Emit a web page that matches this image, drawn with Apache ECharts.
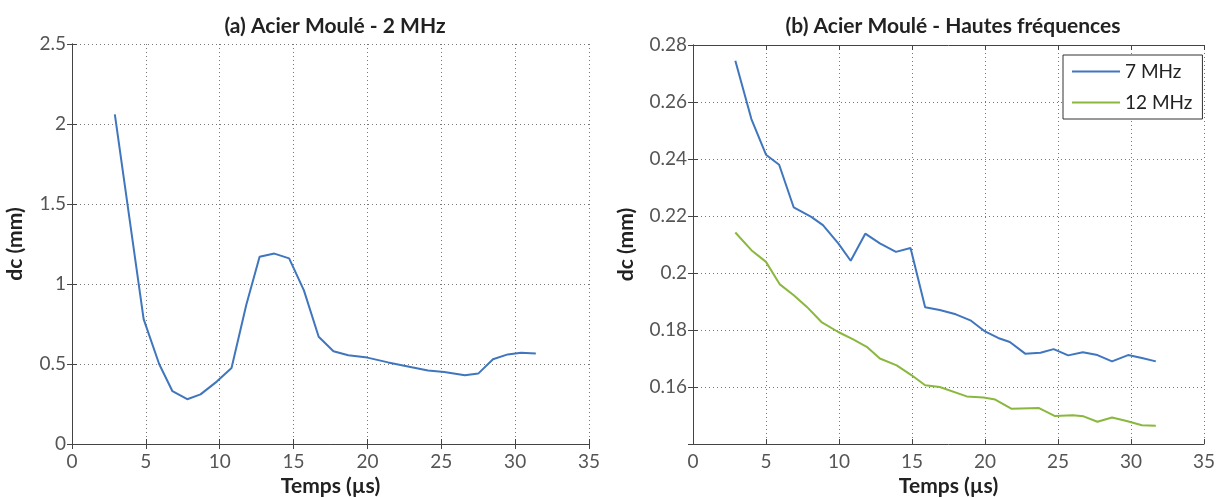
<!DOCTYPE html>
<html>
<head>
<meta charset="utf-8">
<script src="https://cdn.jsdelivr.net/npm/echarts@6/dist/echarts.min.js"></script>
<style>
html,body{margin:0;padding:0;background:#fff;}
#chart{width:1220px;height:497px;}
</style>
</head>
<body>
<div id="chart"></div>
<script>
// Panel (a): 2 MHz
const timeA = [2.9, 4.85, 5.9, 6.8, 7.8, 8.7, 9.8, 10.8, 11.8, 12.7, 13.7, 14.7, 15.7, 16.7, 17.7, 18.7, 20.0, 21.4, 23.0, 24.1, 25.2, 26.6, 27.5, 28.5, 29.5, 30.4, 31.4];
const dc2MHz = [2.06, 0.78, 0.5, 0.33, 0.28, 0.31, 0.39, 0.475, 0.87, 1.17, 1.19, 1.16, 0.96, 0.67, 0.58, 0.555, 0.54, 0.51, 0.48, 0.46, 0.45, 0.43, 0.44, 0.53, 0.56, 0.57, 0.565];

// Panel (b): 7 MHz
const time7 = [2.9, 4.0, 5.0, 5.9, 6.9, 8.1, 8.9, 9.95, 10.8, 11.8, 12.8, 13.9, 14.9, 15.9, 16.9, 18.0, 19.0, 20.0, 20.9, 21.7, 22.75, 23.8, 24.7, 25.7, 26.7, 27.7, 28.7, 29.8, 30.75, 31.7];
const dc7MHz = [0.2745, 0.254, 0.2415, 0.238, 0.223, 0.2197, 0.2168, 0.2104, 0.2043, 0.2138, 0.2104, 0.2074, 0.2088, 0.188, 0.187, 0.1855, 0.1834, 0.1795, 0.1772, 0.1758, 0.1717, 0.172, 0.1733, 0.1711, 0.1722, 0.1712, 0.169, 0.1712, 0.1702, 0.169];

// Panel (b): 12 MHz
const time12 = [2.9, 4.0, 5.0, 5.95, 6.9, 7.8, 8.8, 9.95, 10.97, 11.9, 12.8, 13.95, 14.98, 15.9, 16.9, 18.75, 19.9, 20.7, 21.8, 23.7, 24.8, 26.0, 26.75, 27.7, 28.7, 29.7, 30.75, 31.7];
const dc12MHz = [0.2142, 0.208, 0.2039, 0.196, 0.1922, 0.1881, 0.1828, 0.1793, 0.1767, 0.1741, 0.170, 0.1676, 0.1641, 0.1606, 0.16, 0.1567, 0.1563, 0.1556, 0.1524, 0.1526, 0.1498, 0.1501, 0.1497, 0.1478, 0.1493, 0.1481, 0.1466, 0.1464];

const titles = ['(a) Acier Moulé - 2 MHz', '(b) Acier Moulé - Hautes fréquences'];
const seriesNames = ['7 MHz', '12 MHz'];
const xName = 'Temps (µs)';
const yName = 'dc (mm)';

const pairs = (xs, ys) => xs.map((x, i) => [x, ys[i]]);

const FONT = 'Lato, "Open Sans", sans-serif';
const blue = '#3f76bd';
const green = '#8ab83e';
const axisCol = '#444';
const gridCol = '#777';

function mainX(gi) {
  return {
    type: 'value', gridIndex: gi, min: 0, max: 35, interval: 5,
    name: xName, nameLocation: 'middle', nameGap: 31,
    nameTextStyle: {fontFamily: FONT, fontSize: 21, fontWeight: 'bold', color: '#222'},
    axisLine: {show: true, lineStyle: {color: axisCol, width: 1}},
    axisTick: {show: true, inside: true, length: 5, lineStyle: {color: axisCol}},
    axisLabel: {fontFamily: FONT, fontSize: 19, color: '#555', margin: 8},
    splitLine: {show: true, lineStyle: {color: gridCol, type: [1, 3], width: 1}}
  };
}
function topX(gi) {
  return {
    type: 'value', gridIndex: gi, position: 'top', min: 0, max: 35, interval: 5,
    axisLine: {show: true, lineStyle: {color: axisCol}},
    axisTick: {show: true, inside: true, length: 5, lineStyle: {color: axisCol}},
    axisLabel: {show: false}, splitLine: {show: false}
  };
}
function mainY(gi, min, max, interval, gap, fmt) {
  return {
    type: 'value', gridIndex: gi, min: min, max: max, interval: interval,
    name: yName, nameLocation: 'middle', nameGap: gap,
    nameTextStyle: {fontFamily: FONT, fontSize: 21, fontWeight: 'bold', color: '#222'},
    axisLine: {show: true, lineStyle: {color: axisCol}},
    axisTick: {show: true, inside: true, length: 5, lineStyle: {color: axisCol}},
    axisLabel: {fontFamily: FONT, fontSize: 19, color: '#555', margin: 6, formatter: fmt},
    splitLine: {show: true, lineStyle: {color: gridCol, type: [1, 3], width: 1}}
  };
}
function rightY(gi, min, max, interval) {
  return {
    type: 'value', gridIndex: gi, position: 'right', min: min, max: max, interval: interval,
    axisLine: {show: true, lineStyle: {color: axisCol}},
    axisTick: {show: true, inside: true, length: 5, lineStyle: {color: axisCol}},
    axisLabel: {show: false}, splitLine: {show: false}
  };
}

const option = {
  backgroundColor: '#fff',
  animation: false,
  title: [
    {text: titles[0], left: 330, top: 11, textAlign: 'center',
     textStyle: {fontFamily: FONT, fontSize: 21, fontWeight: 'bold', color: '#222'}},
    {text: titles[1], left: 948, top: 11, textAlign: 'center',
     textStyle: {fontFamily: FONT, fontSize: 21, fontWeight: 'bold', color: '#222'}}
  ],
  grid: [
    {left: 72, right: 631, top: 44, bottom: 53, containLabel: false, outerBoundsMode: 'none'},
    {left: 693, right: 16, top: 45, bottom: 53, containLabel: false, outerBoundsMode: 'none'}
  ],
  legend: {
    data: seriesNames,
    orient: 'vertical',
    left: 1063, top: 55,
    icon: 'rect', itemWidth: 48, itemHeight: 2, itemGap: 12,
    padding: [7, 10, 7, 9],
    borderColor: '#333', borderWidth: 1, backgroundColor: '#fff',
    textStyle: {fontFamily: FONT, fontSize: 19, color: '#222'}
  },
  xAxis: [mainX(0), topX(0), mainX(1), topX(1)],
  yAxis: [
    mainY(0, 0, 2.5, 0.5, 46, v => String(v)),
    rightY(0, 0, 2.5, 0.5),
    mainY(1, 0.14, 0.28, 0.02, 56, v => (Math.abs(v - 0.14) < 1e-9 ? '' : String(+v.toFixed(2)))),
    rightY(1, 0.14, 0.28, 0.02)
  ],
  series: [
    {type: 'line', name: '2 MHz', xAxisIndex: 0, yAxisIndex: 0, data: pairs(timeA, dc2MHz),
     showSymbol: false, lineStyle: {color: blue, width: 2}, itemStyle: {color: blue}},
    {type: 'line', name: seriesNames[0], xAxisIndex: 2, yAxisIndex: 2, data: pairs(time7, dc7MHz),
     showSymbol: false, lineStyle: {color: blue, width: 2}, itemStyle: {color: blue}},
    {type: 'line', name: seriesNames[1], xAxisIndex: 2, yAxisIndex: 2, data: pairs(time12, dc12MHz),
     showSymbol: false, lineStyle: {color: green, width: 2}, itemStyle: {color: green}}
  ]
};

const chart = echarts.init(document.getElementById('chart'), null, {renderer: 'canvas'});
chart.setOption(option);
</script>
</body>
</html>
